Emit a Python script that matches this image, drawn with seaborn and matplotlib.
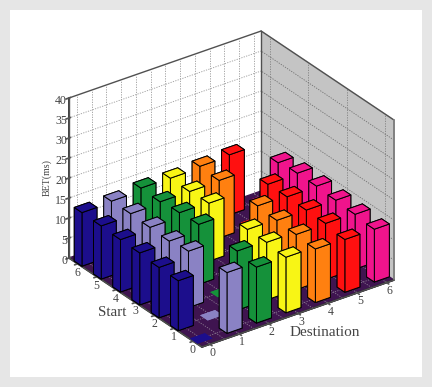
import matplotlib
matplotlib.use("Agg")
import matplotlib.pyplot as plt
from matplotlib.patches import Rectangle
from mpl_toolkits.mplot3d import proj3d
import numpy as np
import pandas as pd
import seaborn as sns

destinations = [0, 1, 2, 3, 4, 5, 6]
starts = [0, 1, 2, 3, 4, 5, 6]
# BET values per destination, indexed by start (diagonal = 0)
bet_d0 = [0, 12.5, 12.6, 13.0, 13.1, 13.3, 13.4]
bet_d1 = [15.2, 0, 14.1, 13.4, 13.6, 13.8, 13.7]
bet_d2 = [14.0, 14.8, 0, 15.0, 14.7, 14.2, 14.4]
bet_d3 = [13.9, 14.4, 14.4, 0, 14.5, 14.2, 14.3]
bet_d4 = [13.4, 13.8, 14.1, 14.5, 0, 14.4, 14.7]
bet_d5 = [13.2, 14.0, 14.1, 14.2, 14.1, 0, 15.0]
bet_d6 = [13.2, 13.7, 14.0, 14.3, 14.3, 13.7, 0]
bet_all = [bet_d0, bet_d1, bet_d2, bet_d3, bet_d4, bet_d5, bet_d6]
bar_colors = ["#1c0e8c", "#8a82c4", "#15913a", "#f8f515", "#ff8010", "#ff1010", "#f0148c"]
z_ticks = [0, 5, 10, 15, 20, 25, 30, 35, 40]

sns.set_theme(style="white", font="Liberation Serif")
palette = sns.color_palette(bar_colors)
plt.rcParams["font.family"] = ["Liberation Serif", "DejaVu Serif"]

df = pd.DataFrame(
    [(d, s, bet_all[d][s]) for d in destinations for s in starts],
    columns=["destination", "start", "bet"],
)

W, H = 432, 387
fig = plt.figure(figsize=(W / 100, H / 100), dpi=100, facecolor="#e6e6e6")
fig.add_artist(Rectangle((10 / W, 10 / H), 412 / W, 367 / H, transform=fig.transFigure,
                         facecolor="white", edgecolor="none", zorder=-5))
ax = fig.add_axes([0.1, 0.1, 0.8, 0.8 * W / H], projection="3d", proj_type="ortho",
                  computed_zorder=False)
ax.patch.set_alpha(0)
ax.view_init(elev=28.9, azim=-125.8)
ax.set_box_aspect((236.7, 227, 182.6))

xlo, xhi = -0.27, 6.25
ylo, yhi = -0.45, 6.45
zlo, zhi = 0, 40
ax.set_xlim(xlo, xhi)
ax.set_ylim(ylo, yhi)
ax.set_zlim(zlo, zhi)
ax.xaxis.set_pane_color("#c4c4c4")
ax.yaxis.set_pane_color("white")
ax.zaxis.set_pane_color("#3f1450")
ax.grid(False)

ax.set_xticks(destinations)
ax.set_yticks(starts)
ax.set_zticks(z_ticks)
ax.set_xticklabels([])
ax.set_yticklabels([])
ax.set_zticklabels([])
ax.tick_params(axis="both", color="#555555")

x_grid = np.arange(0, 6.01, 0.5)
y_grid = [0, 2, 4, 6]
gk = dict(ls=(0, (1.5, 1.5)), lw=0.6, zorder=1)
for x in x_grid:
    ax.plot([x, x], [yhi, yhi], [zlo, zhi], color="#9a9a9a", **gk)
    ax.plot([x, x], [ylo, yhi], [zlo, zlo], color="#8a7a90", **gk)
for y in y_grid:
    ax.plot([xhi, xhi], [y, y], [zlo, zhi], color="#808080", **gk)
for y in starts:
    ax.plot([xlo, xhi], [y, y], [zlo, zlo], color="#8a7a90", **gk)
for z in z_ticks[1:-1]:
    ax.plot([xlo, xhi], [yhi, yhi], [z, z], color="#9a9a9a", **gk)
    ax.plot([xhi, xhi], [ylo, yhi], [z, z], color="#707070", **gk)

# box outline
ek = dict(color="#505050", lw=1.0, zorder=2)
ax.plot([xlo, xhi], [yhi, yhi], [zhi, zhi], **ek)
ax.plot([xhi, xhi], [ylo, yhi], [zhi, zhi], **ek)
ax.plot([xhi, xhi], [yhi, yhi], [zlo, zhi], **ek)
ax.plot([xlo, xlo], [yhi, yhi], [zlo, zhi], **ek)
ax.plot([xhi, xhi], [ylo, ylo], [zlo, zhi], color="#808080", lw=1.4, zorder=2)
ax.plot([xlo, xhi], [ylo, ylo], [zlo, zlo], **ek)
ax.plot([xlo, xlo], [ylo, yhi], [zlo, zlo], **ek)

# bars back to front
bw_x, bw_y = 0.51, 0.40
rows = df.sort_values(by=["destination", "start"]).to_dict("records")
rows.sort(key=lambda r: -(r["destination"] + r["start"]))
for i, r in enumerate(rows):
    d, s, v = r["destination"], r["start"], r["bet"]
    ax.bar3d(d - bw_x / 2, s - bw_y / 2, 0, bw_x, bw_y, v,
             color=palette[d], edgecolor="black" if v > 0 else "none",
             linewidth=0.7, shade=False, zorder=3 + i)

fig.text(47 / W, 1 - 178 / H, "BET(ms)", rotation=90, ha="center", va="center",
         fontsize=7.2, color="#444444")
fig.text(112.5 / W, 1 - 312 / H, "Start", ha="center", va="center", fontsize=10.8, color="#444444")
fig.text(325 / W, 1 - 333 / H, "Destination", ha="center", va="center", fontsize=11, color="#444444")


def corner_px(x, y, z):
    X, Y, _ = proj3d.proj_transform(x, y, z, ax.M)
    return ax.transData.transform((X, Y))


# fit the box onto the reference's pixel frame
target_left = np.array([69.0, H - 258.0])
target_right = np.array([394.0, H - 280.0])
for _ in range(3):
    fig.canvas.draw()
    pl = corner_px(xlo, yhi, zlo)
    pr = corner_px(xhi, ylo, zlo)
    scale = (target_right[0] - target_left[0]) / (pr[0] - pl[0])
    pos = ax.get_position(original=True)
    x0, y0, w, h = pos.x0 * W, pos.y0 * H, pos.width * W, pos.height * H
    mid_now = (pl + pr) / 2
    mid_t = (target_left + target_right) / 2
    cx, cy = x0 + w / 2, y0 + h / 2
    nw, nh = w * scale, h * scale
    ncx = cx + (mid_t[0] - (cx + (mid_now[0] - cx) * scale))
    ncy = cy + (mid_t[1] - (cy + (mid_now[1] - cy) * scale))
    ax.set_position([(ncx - nw / 2) / W, (ncy - nh / 2) / H, nw / W, nh / H])

# tick labels placed from the projected tick positions
fig.canvas.draw()
tk = dict(fontsize=8.5, color="#444444", va="center")
for d in destinations:
    p = corner_px(d, ylo, zlo)
    fig.text((p[0] + 3.0) / W, (p[1] - 8.5) / H, str(d), ha="center", **tk)
for s in starts:
    p = corner_px(xlo, s, zlo)
    fig.text((p[0] - 0.5) / W, (p[1] - 9.0) / H, str(s), ha="center", **tk)
for z in z_ticks:
    p = corner_px(xlo, yhi, z)
    fig.text((p[0] - 2.0) / W, (p[1] - 3.0) / H, str(z), ha="right", **tk)

fig.savefig("out.png", dpi=100, facecolor=fig.get_facecolor())
